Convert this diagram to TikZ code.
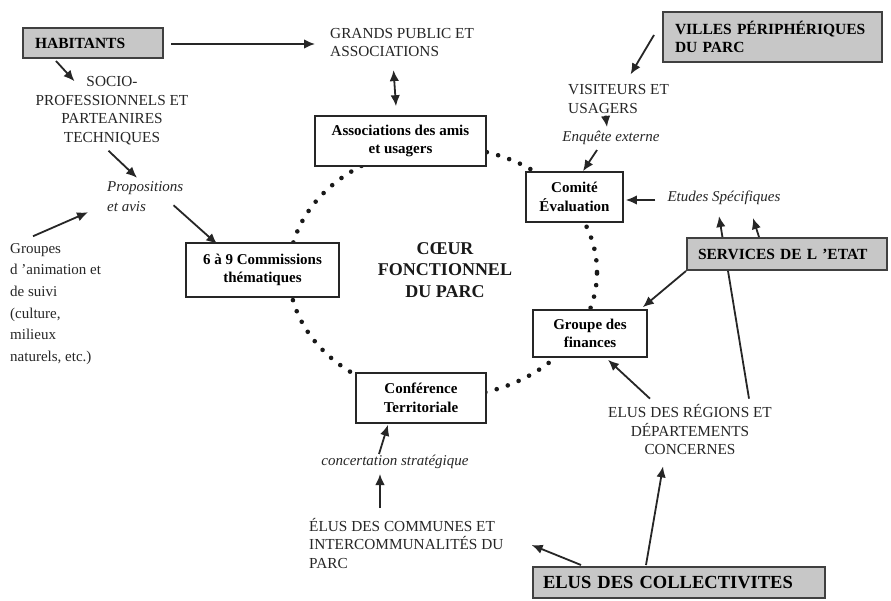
\documentclass[tikz,border=0pt]{standalone}
\usepackage{fontspec}
\setmainfont{Liberation Serif}
\usetikzlibrary{arrows.meta,calc}
\begin{document}
\begin{tikzpicture}[x=1pt,y=-1pt,
  txt/.style={inner sep=0pt, text=black!85, font=\fontsize{15.3}{18.5}\selectfont},
  itx/.style={inner sep=0pt, text=black!85, font=\fontsize{15}{20}\selectfont\itshape},
  wbox/.style={draw=black!85, line width=1.6pt, fill=white, align=center, inner sep=0pt, font=\fontsize{15}{18.5}\selectfont\bfseries},
  gbox/.style={draw=black!75, line width=2pt, fill=black!22, align=left, inner ysep=0pt, font=\fontsize{15.5}{18}\selectfont\bfseries},
  arr/.style={line width=1.8pt, draw=black!85, -{Latex[length=11pt,width=9.5pt]}},
  darr/.style={line width=1.8pt, draw=black!85, {Latex[length=11pt,width=9.5pt]}-{Latex[length=11pt,width=9.5pt]}},
  ring/.style={line width=4.6pt, draw=black!90, line cap=round, dash pattern=on 0pt off 11.7pt}
]
\useasboundingbox (0,0) rectangle (891,601);
\fill[white] (0,0) rectangle (891,601);

% dotted ring
\draw[ring] (443,272) ellipse [x radius=154pt, y radius=125pt];

% text nodes
\node[txt, align=left, anchor=west] (grands) at (330,42.5) {GRANDS PUBLIC ET\\ASSOCIATIONS};
\node[txt, align=center] (socio) at (112,110.5) {SOCIO-\\PROFESSIONNELS ET\\PARTEANIRES\\TECHNIQUES};
\node[itx, align=left, anchor=west] (props) at (107,197) {Propositions\\et avis};
\node[txt, align=left, anchor=west, font=\fontsize{15}{21.6}\selectfont] (groupes) at (10,304) {Groupes\\d 'animation et\\de suivi\\(culture,\\milieux\\naturels, etc.)};
\node[txt, align=left, anchor=west] (visit) at (568,99) {VISITEURS ET\\USAGERS};
\node[itx] (enq) at (611,138) {Enquête externe};
\node[itx] (etudes) at (724,198) {Etudes Spécifiques};
\node[txt, align=center, text=black!90, font=\fontsize{18}{21.5}\selectfont\bfseries] (coeur) at (445,270) {CŒUR\\FONCTIONNEL\\DU PARC};
\node[txt, align=center] (regions) at (690,430) {ELUS DES RÉGIONS ET\\DÉPARTEMENTS\\CONCERNES};
\node[txt, align=left, anchor=west] (communes) at (309,543.5) {ÉLUS DES COMMUNES ET\\INTERCOMMUNALITÉS DU\\PARC};
\node[itx] (concert) at (395,462) {concertation stratégique};

% line from regions to etudes, behind the SERVICES box
\draw[arr] ([xshift=-23pt,yshift=6pt]regions.north east) -- ([xshift=-5pt,yshift=-11pt]etudes.south);

% white boxes
\node[wbox, minimum width=171pt, minimum height=50pt] (asso) at (400.5,141) {Associations des amis\\et usagers};
\node[wbox, minimum width=97pt, minimum height=50pt] (comite) at (574.5,197) {Comité\\Évaluation};
\node[wbox, minimum width=114pt, minimum height=47pt] (groupe) at (590,333.5) {Groupe des\\finances};
\node[wbox, minimum width=130pt, minimum height=50pt] (conf) at (421,398) {Conférence\\Territoriale};
\node[wbox, minimum width=153pt, minimum height=54pt] (comm) at (262.5,270) {6 à 9 Commissions\\thématiques};

% grey boxes
\node[gbox, minimum width=140pt, minimum height=30pt, inner xsep=12pt, text width=116pt] (hab) at (93,43) {HABITANTS};
\node[gbox, minimum width=219pt, minimum height=50pt, inner xsep=12pt, text width=195pt] (villes) at (772.5,37) {VILLES PÉRIPHÉRIQUES\\DU PARC};
\node[gbox, minimum width=200pt, minimum height=32pt, inner xsep=11pt, text width=178pt] (serv) at (787,254) {SERVICES DE L 'ETAT};
\node[gbox, minimum width=292pt, minimum height=31pt, inner xsep=10pt, text width=272pt, font=\fontsize{18.5}{20}\selectfont\bfseries] (coll) at (679,582.5) {ELUS DES COLLECTIVITES};

% arrows
\draw[arr] ([xshift=7pt,yshift=-1pt]hab.east) -- ([xshift=-15pt,yshift=-1.5pt]grands.west);
\draw[arr] ([xshift=34pt,yshift=-2pt]hab.south west) -- ([xshift=39pt,yshift=-5pt]socio.north west);
\draw[arr] ([xshift=73pt,yshift=-6pt]socio.south west) -- ([xshift=30pt,yshift=4pt]props.north west);
\draw[arr] ([xshift=23pt,yshift=7pt]groupes.north west) -- ([xshift=-19pt]props.south west);
\draw[arr] ([xshift=-10pt,yshift=7pt]props.south east) -- ([xshift=32pt,yshift=-2pt]comm.north west);
\draw[darr] ([xshift=-8.5pt,yshift=-13pt]grands.south) -- ([xshift=-4.5pt,yshift=9pt]asso.north);
\draw[arr] ([xshift=-8pt,yshift=2pt]villes.west) -- ([xshift=12pt,yshift=10pt]visit.north);
\draw[arr] ([xshift=-13pt,yshift=-2pt]visit.south) -- ([xshift=-4pt,yshift=4pt]enq.north);
\draw[arr] ([xshift=-14pt,yshift=-5pt]enq.south) -- ([xshift=8.5pt]comite.north);
\draw[arr] ([xshift=-12pt,yshift=-2pt]etudes.west) -- ([xshift=2pt,yshift=-3pt]comite.east);
\draw[arr] ([xshift=73pt]serv.north west) -- ([xshift=29pt,yshift=-13pt]etudes.south);
\draw[arr] (serv.south west) -- ([xshift=-5pt,yshift=2pt]groupe.north east);
\draw[arr] ([xshift=42pt,yshift=6pt]regions.north west) -- ([xshift=18pt,yshift=-2pt]groupe.south);
\draw[arr] ([xshift=114pt,yshift=1pt]coll.north west) -- ([xshift=-27pt,yshift=-11pt]regions.south);
\draw[arr] ([xshift=49pt,yshift=1pt]coll.north west) -- ([xshift=28pt,yshift=-1.5pt]communes.east);
\draw[arr] ([xshift=71pt,yshift=10pt]communes.north west) -- ([xshift=-15pt,yshift=-5pt]concert.south);
\draw[arr] ([xshift=-16pt,yshift=1pt]concert.north) -- ([xshift=-33pt,yshift=-1pt]conf.south);
\end{tikzpicture}
\end{document}
